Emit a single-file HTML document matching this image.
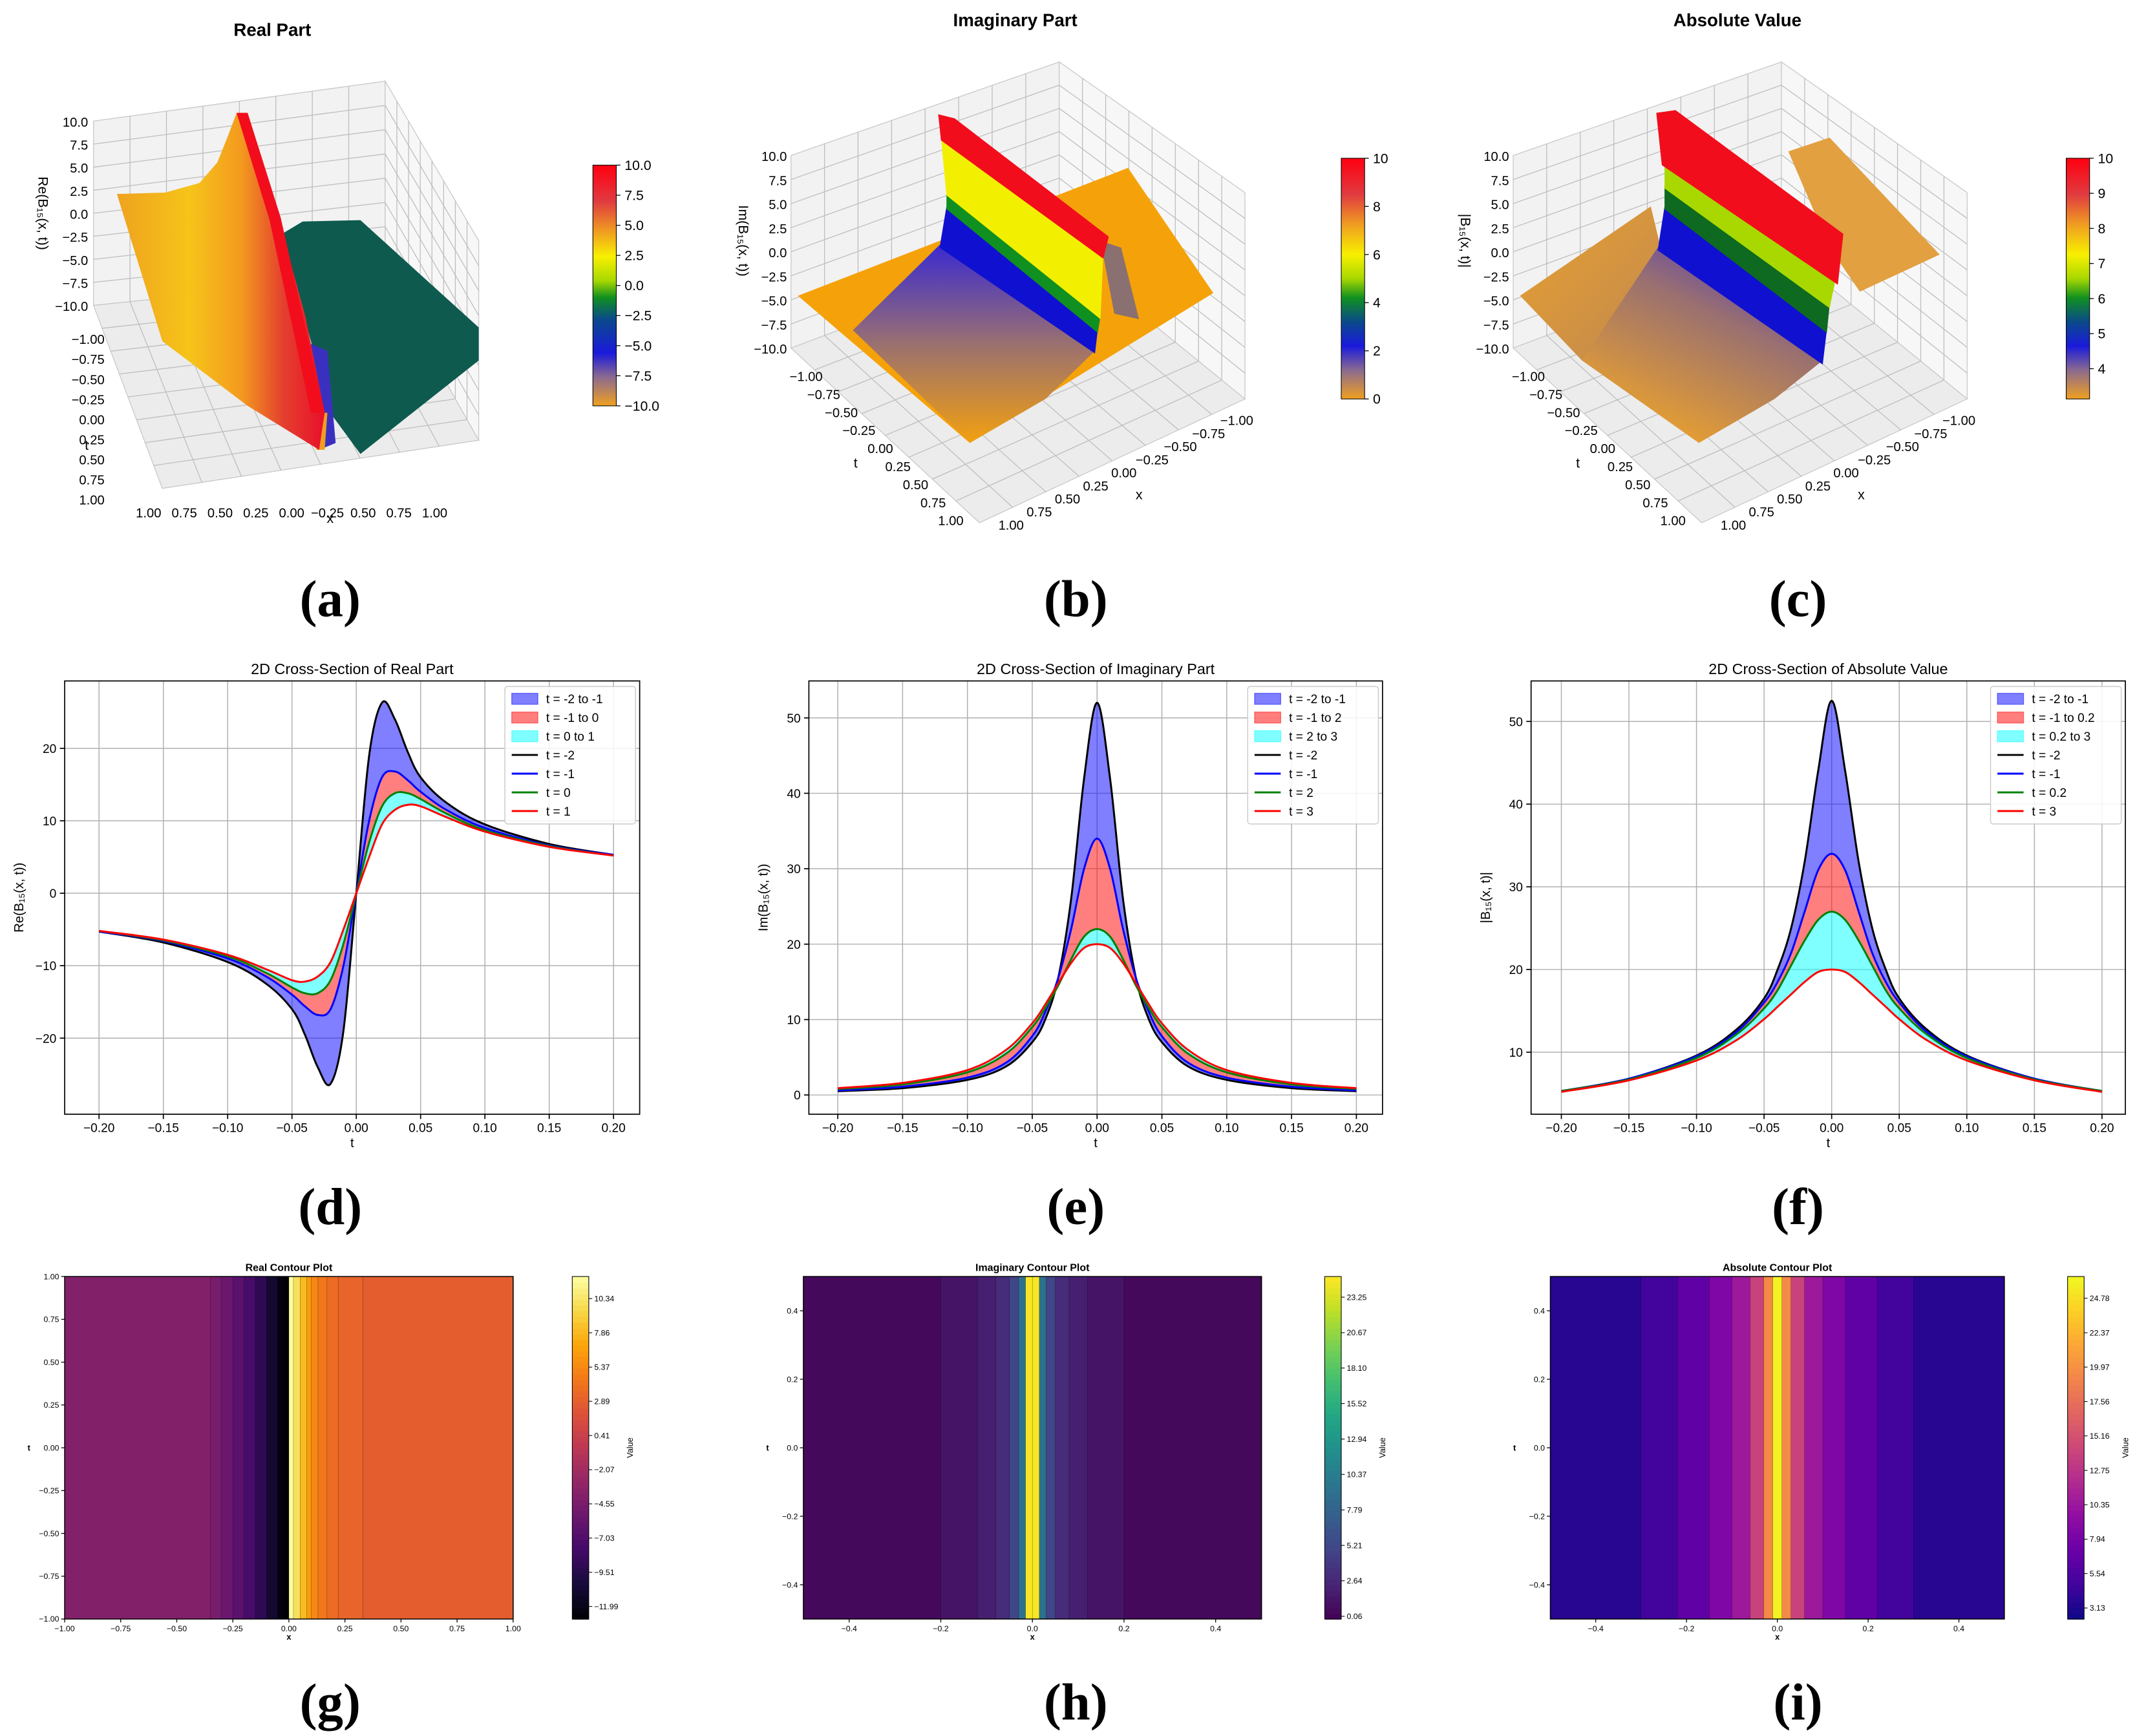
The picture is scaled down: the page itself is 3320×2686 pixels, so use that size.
<!DOCTYPE html>
<html><head><meta charset="utf-8">
<style>
html,body{margin:0;padding:0;background:#fff;}
svg{display:block;}
text{font-family:"Liberation Sans","DejaVu Sans",sans-serif;}
.lbl{font-family:"Liberation Serif",serif;font-weight:bold;font-size:38px;}
</style></head>
<body>
<svg id="fig" width="3320" height="2686" viewBox="0 0 1560 1262" xmlns="http://www.w3.org/2000/svg">
<defs>
<linearGradient id="gA1" x1="0" y1="0" x2="1" y2="0">
<stop offset="0" stop-color="#efa21e"/><stop offset="0.35" stop-color="#f6c419"/><stop offset="0.6" stop-color="#f39a1f"/><stop offset="0.8" stop-color="#e4402e"/><stop offset="1" stop-color="#e8102a"/></linearGradient>
<linearGradient id="cbA" x1="0" y1="1" x2="0" y2="0">
<stop offset="0" stop-color="#f0a020"/><stop offset="0.12" stop-color="#8a6a90"/><stop offset="0.22" stop-color="#1a1adc"/><stop offset="0.36" stop-color="#0a4a8a"/><stop offset="0.45" stop-color="#109020"/><stop offset="0.52" stop-color="#a8d800"/><stop offset="0.62" stop-color="#f8f000"/><stop offset="0.72" stop-color="#f0a020"/><stop offset="0.85" stop-color="#e03a40"/><stop offset="1" stop-color="#ff0010"/></linearGradient>
<linearGradient id="cbB" x1="0" y1="1" x2="0" y2="0">
<stop offset="0" stop-color="#f0a020"/><stop offset="0.12" stop-color="#8a6a90"/><stop offset="0.22" stop-color="#1a1adc"/><stop offset="0.32" stop-color="#0a4a8a"/><stop offset="0.42" stop-color="#109020"/><stop offset="0.5" stop-color="#a8d800"/><stop offset="0.6" stop-color="#f8f000"/><stop offset="0.72" stop-color="#f0a020"/><stop offset="0.85" stop-color="#e03a40"/><stop offset="1" stop-color="#ff0010"/></linearGradient>
<linearGradient id="gFade" x1="0" y1="0" x2="0" y2="1">
<stop offset="0" stop-color="#3a2ad0"/><stop offset="0.5" stop-color="#9a7070"/><stop offset="1" stop-color="#f2a010"/></linearGradient>
<linearGradient id="gFadeC" x1="1" y1="0" x2="0.4" y2="1">
<stop offset="0" stop-color="#3a2ad0"/><stop offset="0.45" stop-color="#9a7070"/><stop offset="1" stop-color="#e8a030"/></linearGradient>
<linearGradient id="gLeftC" x1="0" y1="0" x2="1" y2="1">
<stop offset="0" stop-color="#e8a030"/><stop offset="1" stop-color="#c08850"/></linearGradient>
</defs>

<text x="198" y="26" font-size="13" font-weight="bold" text-anchor="middle">Real Part</text>
<text x="738" y="19" font-size="13" font-weight="bold" text-anchor="middle">Imaginary Part</text>
<text x="1263" y="19" font-size="13" font-weight="bold" text-anchor="middle">Absolute Value</text>

<g id="p3a"></g>
<g id="p3b"></g>
<g id="p3c"></g>

<text class="lbl" x="240" y="448" text-anchor="middle">(a)</text>
<text class="lbl" x="782" y="448" text-anchor="middle">(b)</text>
<text class="lbl" x="1307" y="448" text-anchor="middle">(c)</text>
<text class="lbl" x="240" y="890" text-anchor="middle">(d)</text>
<text class="lbl" x="782" y="890" text-anchor="middle">(e)</text>
<text class="lbl" x="1307" y="890" text-anchor="middle">(f)</text>
<text class="lbl" x="240" y="1250" text-anchor="middle">(g)</text>
<text class="lbl" x="782" y="1250" text-anchor="middle">(h)</text>
<text class="lbl" x="1307" y="1250" text-anchor="middle">(i)</text>

<g id="cd"></g>
<g id="ce"></g>
<g id="cf"></g>
<g id="kg"></g>
<g id="kh"></g>
<g id="ki"></g>
</svg>

<script>
// ---------- Data: cross-sections ----------
const xs = [-0.2,-0.15,-0.1,-0.07,-0.05,-0.04,-0.03,-0.02,-0.01,0,0.01,0.02,0.03,0.04,0.05,0.07,0.1,0.15,0.2];
const reTm2 = [-5.3,-6.8,-9.5,-12.5,-16,-19.5,-24,-26.3,-19,0,19,26.3,24,19.5,16,12.5,9.5,6.8,5.3];
const reTm1 = [-5.3,-6.6,-9,-11.5,-14,-15.6,-16.8,-16,-10,0,10,16,16.8,15.6,14,11.5,9,6.6,5.3];
const reT0  = [-5.2,-6.5,-8.7,-11,-13,-13.8,-13.8,-12,-7,0,7,12,13.8,13.8,13,11,8.7,6.5,5.2];
const reT1  = [-5.2,-6.4,-8.5,-10.5,-12,-12.2,-11.5,-9.5,-5,0,5,9.5,11.5,12.2,12,10.5,8.5,6.4,5.2];
const imTm2 = [0.5,0.9,2,3.8,7,10,15.5,26,42,52,42,26,15.5,10,7,3.8,2,0.9,0.5];
const imTm1 = [0.6,1.1,2.3,4.3,7.8,11,15.5,22,30,34,30,22,15.5,11,7.8,4.3,2.3,1.1,0.6];
const imT2  = [0.8,1.4,3,5.5,9,11.5,14.5,18,21,22,21,18,14.5,11.5,9,5.5,3,1.4,0.8];
const imT3  = [0.9,1.6,3.3,6,9.5,12,14.8,17.5,19.5,20,19.5,17.5,14.8,12,9.5,6,3.3,1.6,0.9];
const abTm2 = [5.3,6.8,9.6,12.8,16.5,20,25,33,44,52.5,44,33,25,20,16.5,12.8,9.6,6.8,5.3];
const abTm1 = [5.3,6.8,9.5,12.5,16,18.5,22,27,32,34,32,27,22,18.5,16,12.5,9.5,6.8,5.3];
const abT02 = [5.3,6.7,9.3,12.2,15.3,17.5,20.5,23.5,26,27,26,23.5,20.5,17.5,15.3,12.2,9.3,6.7,5.3];
const abT3  = [5.2,6.6,9,11.5,14,15.5,17,18.5,19.7,20,19.7,18.5,17,15.5,14,11.5,9,6.6,5.2];
const xTicks = [-0.2,-0.15,-0.1,-0.05,0,0.05,0.1,0.15,0.2];
const dYTicks = [-20,-10,0,10,20];
const eYTicks = [0,10,20,30,40,50];
const fYTicks = [10,20,30,40,50];
const dLegend = ["t = -2 to -1","t = -1 to 0","t = 0 to 1","t = -2","t = -1","t = 0","t = 1"];
const eLegend = ["t = -2 to -1","t = -1 to 2","t = 2 to 3","t = -2","t = -1","t = 2","t = 3"];
const fLegend = ["t = -2 to -1","t = -1 to 0.2","t = 0.2 to 3","t = -2","t = -1","t = 0.2","t = 3"];

// ---------- Data: contour stripes ----------
const gEdges = [-1,-0.35,-0.3,-0.25,-0.2,-0.15,-0.1,-0.05,-0.02,0,0.02,0.05,0.08,0.1,0.13,0.17,0.22,0.33,1];
const gVals  = [-4,-4.6,-5.4,-6.4,-7.6,-9,-10.8,-12.5,-12.8,11.9,10,8,6.5,5.3,4.4,3.7,3.2,2.8];
const gCbTicks = [-11.99,-9.51,-7.03,-4.55,-2.07,0.41,2.89,5.37,7.86,10.34];
const hEdges = [-0.5,-0.2,-0.12,-0.08,-0.05,-0.03,-0.015,0,0.015,0.03,0.05,0.08,0.12,0.2,0.5];
const hVals  = [0.4,1.2,2,3,5,9,24.5,24.5,9,5,3,2,1.2,0.4];
const hCbTicks = [0.06,2.64,5.21,7.79,10.37,12.94,15.52,18.10,20.67,23.25];
const iEdges = [-0.5,-0.3,-0.22,-0.15,-0.1,-0.06,-0.03,-0.01,0.01,0.03,0.06,0.1,0.15,0.22,0.3,0.5];
const iVals  = [3.6,4.8,6.5,8.5,10.5,14,19.5,26,19.5,14,10.5,8.5,6.5,4.8,3.6];
const iCbTicks = [3.13,5.54,7.94,10.35,12.75,15.16,17.56,19.97,22.37,24.78];
const gContourXTicks = [-1,-0.75,-0.5,-0.25,0,0.25,0.5,0.75,1];
const gContourYTicks = [-1,-0.75,-0.5,-0.25,0,0.25,0.5,0.75,1];
const hContourXTicks = [-0.4,-0.2,0,0.2,0.4];
const hContourYTicks = [-0.4,-0.2,0,0.2,0.4];

const NS = "http://www.w3.org/2000/svg";
function mk(parent, tag, attrs, txt){
  const e = document.createElementNS(NS, tag);
  for (const k in attrs) e.setAttribute(k, attrs[k]);
  if (txt !== undefined) e.textContent = txt;
  parent.appendChild(e);
  return e;
}
function smoothPath(pts){
  let d = "M"+pts[0][0].toFixed(2)+","+pts[0][1].toFixed(2);
  for (let i=0;i<pts.length-1;i++){
    const p0=pts[Math.max(0,i-1)], p1=pts[i], p2=pts[i+1], p3=pts[Math.min(pts.length-1,i+2)];
    const c1=[p1[0]+(p2[0]-p0[0])/6, p1[1]+(p2[1]-p0[1])/6];
    const c2=[p2[0]-(p3[0]-p1[0])/6, p2[1]-(p3[1]-p1[1])/6];
    d += " C"+c1[0].toFixed(2)+","+c1[1].toFixed(2)+" "+c2[0].toFixed(2)+","+c2[1].toFixed(2)+" "+p2[0].toFixed(2)+","+p2[1].toFixed(2);
  }
  return d;
}
function fmt(v,d){ return (v<0?"\u2212":"")+Math.abs(v).toFixed(d); }

function crossChart(gid, box, xr, yr, yTicks, series, legend, title, ylab){
  const g = document.getElementById(gid);
  box.y0 = box.py0; box.y1 = box.py1;
  const sx = v => box.x0 + (v - xr[0])/(xr[1]-xr[0])*(box.x1-box.x0);
  const sy = v => box.y0 + (yr[1] - v)/(yr[1]-yr[0])*(box.y1-box.y0);
  xTicks.forEach((t)=>{
    const l = mk(g,"line",{x1:sx(t),x2:sx(t),y1:box.py0,y2:box.py1,stroke:"#b0b0b0","stroke-width":0.7});
    
    
    mk(g,"line",{x1:sx(t),x2:sx(t),y1:box.py1,y2:box.py1+3.5,stroke:"#000","stroke-width":0.8});
    const tx = mk(g,"text",{x:sx(t),y:box.py1+13,"font-size":9,"text-anchor":"middle"},fmt(t,2));
    
    
  });
  yTicks.forEach(t=>{
    const l = mk(g,"line",{x1:box.px0,x2:box.px1,y1:sy(t),y2:sy(t),stroke:"#b0b0b0","stroke-width":0.7});
    
    
    mk(g,"line",{x1:box.px0-3.5,x2:box.px0,y1:sy(t),y2:sy(t),stroke:"#000","stroke-width":0.8});
    const tx = mk(g,"text",{x:box.px0-6,y:sy(t)+3.3,"font-size":9,"text-anchor":"end"},fmt(t,0));
    
    
  });
  const fillCols = ["#0000ff","#ff0000","#00ffff"];
  for (let k=0;k<3;k++){
    const a = xs.map((x,i)=>[sx(x),sy(series[k][i])]);
    const b = xs.map((x,i)=>[sx(x),sy(series[k+1][i])]).reverse();
    const d = smoothPath(a) + " L" + b[0][0]+","+b[0][1] + smoothPath(b).replace(/^M[^C]*/," ") + " Z";
    const p = mk(g,"path",{d:d,fill:fillCols[k],"fill-opacity":0.5,stroke:"none"});
    
    
  }
  const lineCols = ["#000000","#0000ff","#008000","#ff0000"];
  for (let k=0;k<4;k++){
    const pts = xs.map((x,i)=>[sx(x),sy(series[k][i])]);
    const p = mk(g,"path",{d:smoothPath(pts),fill:"none",stroke:lineCols[k],"stroke-width":1.4});
    
    
  }
  const fr = mk(g,"rect",{x:box.px0,y:box.py0,width:box.px1-box.px0,height:box.py1-box.py0,fill:"none",stroke:"#000","stroke-width":0.8});
  
  
  const tt = mk(g,"text",{x:(box.px0+box.px1)/2,y:box.py0-5,"font-size":11,"text-anchor":"middle"},title);
  
  
  const xl = mk(g,"text",{x:(box.px0+box.px1)/2,y:box.py1+24,"font-size":9.5,"text-anchor":"middle"},"t");
  
  
  const yl = mk(g,"text",{x:0,y:0,"font-size":9.5,"text-anchor":"middle",transform:"translate("+(box.px0-30)+","+((box.py0+box.py1)/2)+") rotate(-90)"},ylab);
  
  
  const lx = box.px1-98, ly = box.py0+4;
  const lg = mk(g,"rect",{x:lx,y:ly,width:95,height:100,fill:"#fff","fill-opacity":0.85,stroke:"#ccc","stroke-width":0.7,rx:2});
  
  
  legend.forEach((s,i)=>{
    const yy = ly+9+i*13.6;
    if (i<3){
      const r = mk(g,"rect",{x:lx+5,y:yy-4,width:19,height:8,fill:fillCols[i],"fill-opacity":0.5,stroke:fillCols[i],"stroke-opacity":0.5,"stroke-width":0.6});
      
      
    } else {
      const r = mk(g,"line",{x1:lx+5,x2:lx+24,y1:yy,y2:yy,stroke:lineCols[i-3],"stroke-width":1.4});
      
      
    }
    const t = mk(g,"text",{x:lx+30,y:yy+3.3,"font-size":9},s);
    
    
  });
}
crossChart("cd",{x0:72,x1:446,px0:47,px1:465,py0:495,py1:810}, [-0.2,0.2], [-30.5,29.3],
  dYTicks,[reTm2,reTm1,reT0,reT1],dLegend,"2D Cross-Section of Real Part","Re(B\u2081\u2085(x, t))");
crossChart("ce",{x0:609,x1:986,px0:588,px1:1005,py0:495,py1:810}, [-0.2,0.2], [-2.55,54.9],
  eYTicks,[imTm2,imTm1,imT2,imT3],eLegend,"2D Cross-Section of Imaginary Part","Im(B\u2081\u2085(x, t))");
crossChart("cf",{x0:1135,x1:1528,px0:1113,px1:1545,py0:495,py1:810}, [-0.2,0.2], [2.5,54.9],
  fYTicks,[abTm2,abTm1,abT02,abT3],fLegend,"2D Cross-Section of Absolute Value","|B\u2081\u2085(x, t)|");

// ---------- Contour plots ----------
const infernoStops = ["#000004","#160b39","#420a68","#6a176e","#932667","#bc3754","#dd513a","#f37819","#fca50a","#f6d746","#fcffa4"];
const viridisStops = ["#440154","#482475","#414487","#355f8d","#2a788e","#21918c","#22a884","#44bf70","#7ad151","#bddf26","#fde725"];
const plasmaStops  = ["#0d0887","#41049d","#6a00a8","#8f0da4","#b12a90","#cc4778","#e16462","#f2844b","#fca636","#fcce25","#f0f921"];
function hex2(c){return [parseInt(c.substr(1,2),16),parseInt(c.substr(3,2),16),parseInt(c.substr(5,2),16)];}
function cmap(stops, f){
  f = Math.max(0,Math.min(1,f));
  const p = f*(stops.length-1), i = Math.min(stops.length-2, Math.floor(p)), r = p-i;
  const a = hex2(stops[i]), b = hex2(stops[i+1]);
  return "rgb("+a.map((v,k)=>Math.round(v+(b[k]-v)*r)).join(",")+")";
}
function contour(gid, box, xr, yr, edges, vals, stops, vmin, vmax, cbx, cbTicks, cbDec, xT, yT, xDec, title){
  const g = document.getElementById(gid);
  const sx = v => box.x0 + (v-xr[0])/(xr[1]-xr[0])*(box.x1-box.x0);
  const sy = v => box.y0 + (yr[1]-v)/(yr[1]-yr[0])*(box.y1-box.y0);
  for (let i=0;i<vals.length;i++){
    const r = mk(g,"rect",{x:sx(edges[i]),y:box.y0,width:sx(edges[i+1])-sx(edges[i])+0.3,height:box.y1-box.y0,fill:cmap(stops,(vals[i]-vmin)/(vmax-vmin)),stroke:"#000","stroke-width":0.25,"stroke-opacity":0.5});
    
    
  }
  const fr = mk(g,"rect",{x:box.x0,y:box.y0,width:box.x1-box.x0,height:box.y1-box.y0,fill:"none",stroke:"#000","stroke-width":0.7});
  
  
  xT.forEach(t=>{
    mk(g,"line",{x1:sx(t),x2:sx(t),y1:box.y1,y2:box.y1+2.5,stroke:"#000","stroke-width":0.6});
    const tx = mk(g,"text",{x:sx(t),y:box.y1+9,"font-size":5.8,"text-anchor":"middle"},fmt(t,xDec));
    
    
  });
  yT.forEach(t=>{
    mk(g,"line",{x1:box.x0-2.5,x2:box.x0,y1:sy(t),y2:sy(t),stroke:"#000","stroke-width":0.6});
    const tx = mk(g,"text",{x:box.x0-4,y:sy(t)+2,"font-size":5.8,"text-anchor":"end"},fmt(t,xDec));
    
    
  });
  const tt = mk(g,"text",{x:(box.x0+box.x1)/2,y:box.y0-4,"font-size":7.5,"font-weight":"bold","text-anchor":"middle"},title);
  
  
  const xl = mk(g,"text",{x:(box.x0+box.x1)/2,y:box.y1+15,"font-size":6,"font-weight":"bold","text-anchor":"middle"},"x");
  
  
  const yl = mk(g,"text",{x:box.x0-26,y:(box.y0+box.y1)/2+2,"font-size":6,"font-weight":"bold","text-anchor":"middle"},"t");
  
  
  const n=60, h=(box.y1-box.y0)/n;
  for (let i=0;i<n;i++){
    const c = mk(g,"rect",{x:cbx,y:box.y1-(i+1)*h,width:12,height:h+0.4,fill:cmap(stops,(i+0.5)/n)});
    
    
  }
  const cf = mk(g,"rect",{x:cbx,y:box.y0,width:12,height:box.y1-box.y0,fill:"none",stroke:"#000","stroke-width":0.5});
  
  
  cbTicks.forEach(t=>{
    const yy = box.y1-(t-vmin)/(vmax-vmin)*(box.y1-box.y0);
    mk(g,"line",{x1:cbx+12,x2:cbx+14.5,y1:yy,y2:yy,stroke:"#000","stroke-width":0.5});
    const tx = mk(g,"text",{x:cbx+16,y:yy+2,"font-size":5.8},fmt(t,cbDec));
    
    
  });
  const vl = mk(g,"text",{x:0,y:0,"font-size":6,"text-anchor":"middle",transform:"translate("+(cbx+44)+","+((box.y0+box.y1)/2)+") rotate(-90)"},"Value");
  
  
}
contour("kg",{x0:47,x1:373,y0:928,y1:1177},[-1,1],[-1,1],gEdges,gVals,infernoStops,-12.9,11.94,416,gCbTicks,2,gContourXTicks,gContourYTicks,2,"Real Contour Plot");
contour("kh",{x0:584,x1:917,y0:928,y1:1177},[-0.5,0.5],[-0.5,0.5],hEdges,hVals,viridisStops,-0.14,24.75,963,hCbTicks,2,hContourXTicks,hContourYTicks,1,"Imaginary Contour Plot");
contour("ki",{x0:1127,x1:1457,y0:928,y1:1177},[-0.5,0.5],[-0.5,0.5],iEdges,iVals,plasmaStops,2.36,26.3,1503,iCbTicks,2,hContourXTicks,hContourYTicks,1,"Absolute Contour Plot");

// ---------- 3D surface sketches ----------
function lerp(a,b,t){return [a[0]+(b[0]-a[0])*t, a[1]+(b[1]-a[1])*t];}
function pane(g, A,B,C,D, fill, n1, n2){
  const p = mk(g,"polygon",{points:[A,B,C,D].map(q=>q.join(",")).join(" "),fill:fill,stroke:"#c8c8c8","stroke-width":0.6});
  
  
  for (let i=1;i<n1;i++){ const a=lerp(A,B,i/n1), b=lerp(D,C,i/n1); mk(g,"line",{x1:a[0],y1:a[1],x2:b[0],y2:b[1],stroke:"#bdbdbd","stroke-width":0.6}); }
  for (let i=1;i<n2;i++){ const a=lerp(A,D,i/n2), b=lerp(B,C,i/n2); mk(g,"line",{x1:a[0],y1:a[1],x2:b[0],y2:b[1],stroke:"#bdbdbd","stroke-width":0.6}); }
}
function poly(g, pts, fill, name){
  const p = mk(g,"polygon",{points:pts.map(q=>q.join(",")).join(" "),fill:fill,stroke:"none"});
  
  
  return p;
}
function txt(g,x,y,s,size,anchor,name){
  const t = mk(g,"text",{x:x,y:y,"font-size":size||9.5,"text-anchor":anchor||"end"},s);
  
  
  return t;
}
function cbar(g,x,y0,y1,grad,labels,name,labTop,labBot){
  const r = mk(g,"rect",{x:x,y:y0,width:17,height:y1-y0,fill:"url(#"+grad+")",stroke:"#000","stroke-width":0.5});
  
  
  const a = labTop===undefined?y0:labTop, b = labBot===undefined?y1:labBot;
  labels.forEach((s,i)=>{
    const yy = a + (b-a)*i/(labels.length-1);
    mk(g,"line",{x1:x+17,x2:x+20,y1:yy,y2:yy,stroke:"#000","stroke-width":0.6});
    txt(g,x+23,yy+3.5,s,10,"start","colorbar-tick-label");
  });
}
const zLabs = ["10.0","7.5","5.0","2.5","0.0","\u22122.5","\u22125.0","\u22127.5","\u221210.0"];
const tLabs = ["\u22121.00","\u22120.75","\u22120.50","\u22120.25","0.00","0.25","0.50","0.75","1.00"];
const xLabsA = ["1.00","0.75","0.50","0.25","0.00","\u22120.25","0.50","0.75","1.00"];
const xLabsB = ["1.00","0.75","0.50","0.25","0.00","\u22120.25","\u22120.50","\u22120.75","\u22121.00"];

(function(){
  const g = document.getElementById("p3a");
  pane(g,[68,88],[280,59],[280,200],[68,222],"#f2f2f2",8,8);
  pane(g,[280,59],[348,175],[348,320],[280,200],"#f7f7f7",8,8);
  pane(g,[68,222],[280,200],[348,320],[118,355],"#ececec",8,8);
  poly(g,[[205,170],[220,161],[262,160],[348,238],[348,262],[262,330],[240,300]],"#0e5a4e","surface-teal-sheet");
  poly(g,[[226,250],[238,255],[244,322],[232,327]],"#3a30c0","surface-blue-trough");
  poly(g,[[228,300],[238,300],[236,327],[230,327]],"#f0a020","surface-trough-tip");
  poly(g,[[85,141],[120,140],[145,133],[158,118],[166,98],[172,82],[180,82],[200,150],[222,230],[236,300],[232,327],[180,295],[118,248]],"url(#gA1)","surface-main-sheet");
  poly(g,[[172,82],[180,82],[204,158],[236,300],[226,300],[196,160]],"#f20d1c","surface-red-ridge");
  zLabs.forEach((s,i)=>txt(g,64,92+i*16.75,s,9.5,"end","z-tick-label"));
  tLabs.forEach((s,i)=>txt(g,76,250+i*14.6,s,9.5,"end","t-tick-label"));
  xLabsA.forEach((s,i)=>txt(g,108+i*26,376,s,9.5,"middle","x-tick-label"));
  txt(g,240,380,"x",10,"middle","x-axis-title");
  txt(g,63,327,"t",10,"middle","t-axis-title");
  const zl = mk(g,"text",{x:0,y:0,"font-size":10,"text-anchor":"middle",transform:"translate(28,155) rotate(90)"},"Re(B\u2081\u2085(x, t))");
  
  
  cbar(g,431,120,295,"cbA",["10.0","7.5","5.0","2.5","0.0","\u22122.5","\u22125.0","\u22127.5","\u221210.0"],"colorbar-real");
})();

(function(){
  const g = document.getElementById("p3b");
  pane(g,[575,113],[770,45],[770,180],[575,253],"#f2f2f2",8,8);
  pane(g,[770,45],[905,140],[905,290],[770,180],"#f7f7f7",8,8);
  pane(g,[575,253],[770,180],[905,290],[712,380],"#ececec",8,8);
  poly(g,[[580,215],[820,122],[882,213],[705,322]],"#f5a20a","surface-flat-plane");
  poly(g,[[800,175],[815,180],[828,232],[810,228]],"#8a7070","surface-trough");
  poly(g,[[683,178],[796,255],[760,290],[705,322],[620,240]],"url(#gFade)","surface-fade");
  poly(g,[[688,150],[798,240],[796,257],[683,180]],"#1010d0","surface-blue-band");
  poly(g,[[688,140],[800,230],[798,242],[688,152]],"#109020","surface-green-band");
  poly(g,[[684,100],[802,185],[800,232],[688,142]],"#f2f000","surface-yellow-face");
  poly(g,[[682,83],[694,86],[806,172],[802,188],[684,102]],"#f20d1c","surface-red-ridge");
  zLabs.forEach((s,i)=>txt(g,572,117+i*17.5,s,9.5,"end","z-tick-label"));
  tLabs.forEach((s,i)=>txt(g,598+i*12.8,277+i*13.1,s,9.5,"end","t-tick-label"));
  xLabsB.forEach((s,i)=>txt(g,735+i*20.5,385-i*9.5,s,9.5,"middle","x-tick-label"));
  txt(g,828,363,"x",10,"middle","x-axis-title");
  txt(g,622,340,"t",10,"middle","t-axis-title");
  const zl = mk(g,"text",{x:0,y:0,"font-size":10,"text-anchor":"middle",transform:"translate(537,175) rotate(90)"},"Im(B\u2081\u2085(x, t))");
  
  
  cbar(g,975,115,290,"cbB",["10","8","6","4","2","0"],"colorbar-imag");
})();

(function(){
  const g = document.getElementById("p3c");
  const o = 525;
  pane(g,[575+o,113],[770+o,45],[770+o,180],[575+o,253],"#f2f2f2",8,8);
  pane(g,[770+o,45],[905+o,140],[905+o,290],[770+o,180],"#f7f7f7",8,8);
  pane(g,[575+o,253],[770+o,180],[905+o,290],[712+o,380],"#ececec",8,8);
  poly(g,[[1300,110],[1330,100],[1410,185],[1352,212],[1330,180]],"#e2a040","surface-right-plane");
  poly(g,[[1105,215],[1200,150],[1212,200],[1180,250],[1150,262]],"url(#gLeftC)","surface-left-plane");
  poly(g,[[1205,180],[1325,262],[1290,290],[1235,322],[1150,262]],"url(#gFadeC)","surface-fade");
  poly(g,[[1210,150],[1328,240],[1325,265],[1205,182]],"#1010d0","surface-blue-band");
  poly(g,[[1210,135],[1330,222],[1328,242],[1210,152]],"#0d6a20","surface-green-band");
  poly(g,[[1210,118],[1334,205],[1330,224],[1210,137]],"#a8d800","surface-yellow-band");
  poly(g,[[1204,82],[1218,80],[1340,170],[1336,207],[1208,120]],"#f20d1c","surface-red-ridge");
  zLabs.forEach((s,i)=>txt(g,572+o,117+i*17.5,s,9.5,"end","z-tick-label"));
  tLabs.forEach((s,i)=>txt(g,598+o+i*12.8,277+i*13.1,s,9.5,"end","t-tick-label"));
  xLabsB.forEach((s,i)=>txt(g,735+o+i*20.5,385-i*9.5,s,9.5,"middle","x-tick-label"));
  txt(g,828+o,363,"x",10,"middle","x-axis-title");
  txt(g,622+o,340,"t",10,"middle","t-axis-title");
  const zl = mk(g,"text",{x:0,y:0,"font-size":10,"text-anchor":"middle",transform:"translate(1062,175) rotate(90)"},"|B\u2081\u2085(x, t)|");
  
  
  cbar(g,1502,115,290,"cbB",["10","9","8","7","6","5","4"],"colorbar-abs",115,268);
})();
</script>
</body></html>
